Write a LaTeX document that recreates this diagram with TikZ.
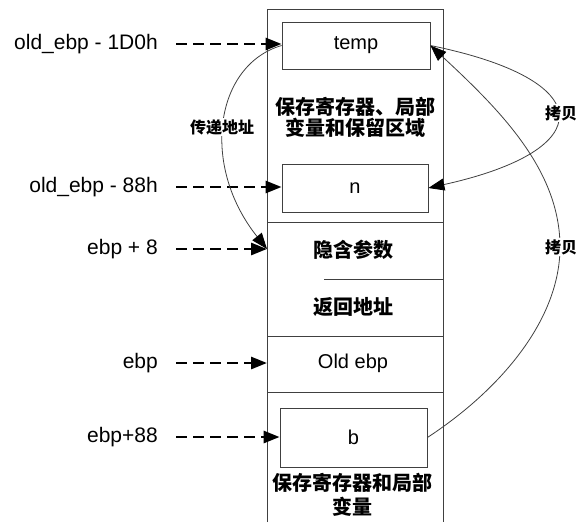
\documentclass[tikz,border=0pt]{standalone}
\usepackage{fontspec}
\setmainfont{Liberation Sans}
\newfontfamily\cjk{Noto Sans CJK SC}
\usetikzlibrary{arrows.meta}
\begin{document}
\begin{tikzpicture}[x=1pt,y=-1pt,
  thinline/.style={draw=black!75,line width=0.8pt},
  cellbox/.style={thinline,inner sep=0pt,font=\fontsize{20}{22}\selectfont},
  ptr/.style={line width=2.8pt,dash pattern=on 11pt off 6pt,-{Triangle[length=16pt,width=12pt]}},
  cp/.style={draw=black!75,line width=0.8pt,-{Triangle[length=16pt,width=12pt,color=black,fill=black]}},
  lbl/.style={anchor=east,inner ysep=0pt,inner xsep=18pt,font=\fontsize{21}{24}\selectfont},
  cell/.style={inner sep=0pt,align=center,font=\cjk\bfseries\fontsize{20}{21}\selectfont},
  latincell/.style={inner sep=0pt,font=\fontsize{20}{22}\selectfont},
  note/.style={fill=white,inner sep=1.5pt,font=\cjk\bfseries\fontsize{16}{18}\selectfont}]
\useasboundingbox (0,0) rectangle (577,522);

% stack column
\draw[thinline] (267,522) -- (267,9) -- (443,9) -- (443,522);
\draw[thinline] (267,222) -- (443,222);
\draw[thinline] (324,279) -- (443,279);
\draw[thinline] (267,336) -- (443,336);
\draw[thinline] (267,392) -- (443,392);

% boxes
\node[cellbox,minimum width=148pt,minimum height=47pt] (temp) at (356,45.5) {temp};
\node[cellbox,minimum width=146pt,minimum height=48pt] (n) at (355,188) {n};
\node[cellbox,minimum width=147pt,minimum height=59pt] (b) at (353.5,437.5) {b};

% cell texts
\node[cell] (save1) at (355,117) {保存寄存器、局部\\变量和保留区域};
\node[cell] (hidden) at (353,250) {隐含参数};
\node[cell] (ret) at (353,307) {返回地址};
\node[latincell] (oldebp) at (353,363) {Old ebp};
\node[cell,font=\cjk\bfseries\fontsize{20}{24}\selectfont] (save2) at (352,495) {保存寄存器和局部\\变量};

% left labels
\node[lbl] (l1) at (176,44) {old\_ebp - 1D0h};
\node[lbl] (l2) at (176,187) {old\_ebp - 88h};
\node[lbl] (l3) at (176,249) {ebp + 8};
\node[lbl] (l4) at (176,363) {ebp};
\node[lbl] (l5) at (176,437) {ebp+88};

\coordinate (p8) at (267,249);
\coordinate (pe) at (267,363);
\coordinate (cb) at (560,247);

\draw[ptr] (l1.east) -- (l1.east -| temp.west);
\draw[ptr] (l2.east) -- (l2.east -| n.west);
\draw[ptr] (l3.east) -- (p8);
\draw[ptr] (l4.east) -- (pe);
\draw[ptr] (l5.east) -- (l5.east -| b.west);

% curves
\draw[cp] (temp.west) .. controls (215,65) and (200,165) .. (p8);
\draw[cp] (temp.east) .. controls (600,80) and (600,150) .. (n.east);
\draw[cp] (b.east) .. controls (500,390) and (560,320) .. (cb) .. controls (560,170) and (500,110) .. (temp.east);

\node[note] (pass) at (222,127) {传递地址};
\node[note] (copy1) at (561,113) {拷贝};
\node[note] (copy2) at (561,247) {拷贝};
\end{tikzpicture}
\end{document}
